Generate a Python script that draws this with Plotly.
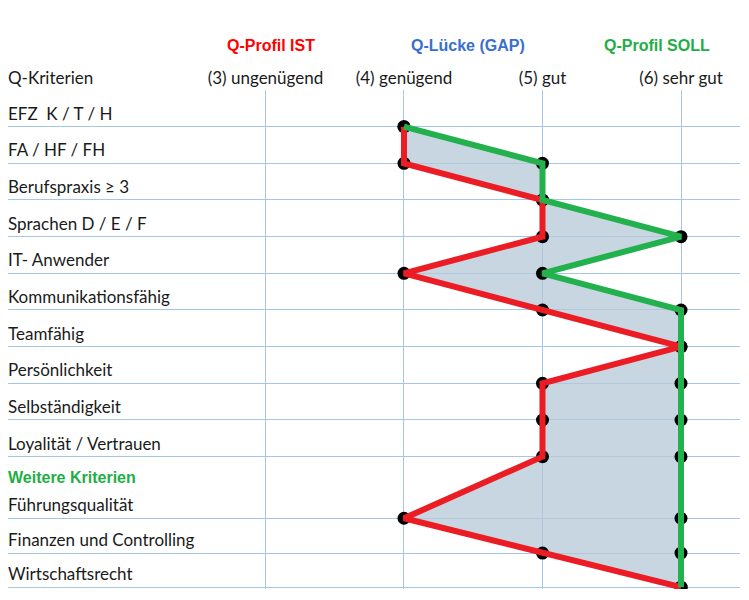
import plotly.graph_objects as go

# ---- data ----
criteria = ["EFZ  K / T / H", "FA / HF / FH", "Berufspraxis ≥ 3", "Sprachen D / E / F",
            "IT- Anwender", "Kommunikationsfähig", "Teamfähig", "Persönlichkeit",
            "Selbständigkeit", "Loyalität / Vertrauen", "Führungsqualität",
            "Finanzen und Controlling", "Wirtschaftsrecht"]
row_pos = [0, 1, 2, 3, 4, 5, 6, 7, 8, 9, 10.68, 11.63, 12.56]
group_label = "Weitere Kriterien"
group_pos = 9.58
ist = [4, 4, 5, 5, 4, 5, 6, 5, 5, 5, 4, 5, 6]
soll = [4, 5, 5, 6, 5, 6, 6, 6, 6, 6, 6, 6, 6]
scale_vals = [3, 4, 5, 6]
scale_text = ["(3) ungenügend", "(4) genügend", "(5) gut", "(6) sehr gut"]
headers = ["Q-Profil IST", "Q-Lücke (GAP)", "Q-Profil SOLL"]
header_x = [3.04, 4.46, 5.83]
header_colors = ["#FF0000", "#3A6FD0", "#1DAE45"]

RED = "#EC1C24"
GREEN = "#22B14C"
FONT = "Lato, Open Sans, sans-serif"

fig = go.Figure()
# gap fill
fig.add_trace(go.Scatter(x=ist, y=row_pos, mode="lines", line=dict(width=0),
                         hoverinfo="skip", showlegend=False))
fig.add_trace(go.Scatter(x=soll, y=row_pos, mode="lines", line=dict(width=0),
                         fill="tonextx", fillcolor="rgba(180,200,213,0.75)",
                         hoverinfo="skip", showlegend=False))
# markers (under lines)
for vals in (ist, soll):
    fig.add_trace(go.Scatter(x=vals, y=row_pos, mode="markers",
                             marker=dict(size=13, color="black"),
                             hoverinfo="skip", showlegend=False))
# lines
fig.add_trace(go.Scatter(x=ist, y=row_pos, mode="lines", name="Q-Profil IST",
                         line=dict(color=RED, width=6), showlegend=False))
fig.add_trace(go.Scatter(x=soll, y=row_pos, mode="lines", name="Q-Profil SOLL",
                         line=dict(color=GREEN, width=6), showlegend=False))

annotations = []
for lab, y in zip(criteria, row_pos):
    annotations.append(dict(text=lab, x=0, xref="paper", xanchor="left", xshift=-2,
                            y=y, yref="y", yanchor="bottom", yshift=1,
                            showarrow=False,
                            font=dict(family=FONT, size=17, color="#1a1a1a")))
annotations.append(dict(text="<b>" + group_label + "</b>", x=0, xref="paper", xanchor="left",
                        xshift=-2, y=group_pos, yref="y", yanchor="middle", showarrow=False,
                        font=dict(family="Liberation Sans, Arial", size=16, color="#1DAE45")))
annotations.append(dict(text="Q-Kriterien", x=0, xref="paper", xanchor="left", xshift=-2,
                        y=1.026, yref="paper", yanchor="middle", showarrow=False,
                        font=dict(family=FONT, size=17, color="#1a1a1a")))
for h, hx, hc in zip(headers, header_x, header_colors):
    annotations.append(dict(text="<b>" + h + "</b>", x=hx, xref="x", xanchor="center",
                            y=1.090, yref="paper", yanchor="middle", showarrow=False,
                            font=dict(family="Liberation Sans, Arial", size=16, color=hc)))

fig.update_layout(
    width=741, height=592,
    margin=dict(l=0, r=9, t=82, b=11),
    paper_bgcolor="white", plot_bgcolor="white",
    annotations=annotations,
    xaxis=dict(range=[1.141, 6.426], side="top", tickvals=scale_vals, ticktext=scale_text,
               showgrid=True, gridcolor="#A4C6E8", gridwidth=1.3, zeroline=False,
               showline=False, ticks="", ticklabelstandoff=2,
               tickfont=dict(family=FONT, size=17, color="#1a1a1a")),
    yaxis=dict(range=[12.61, -1.0], tickvals=row_pos, showticklabels=False,
               showgrid=True, gridcolor="#A4C6E8", gridwidth=1.3, zeroline=False,
               showline=False, ticks=""),
)

fig.write_html("out.html")
